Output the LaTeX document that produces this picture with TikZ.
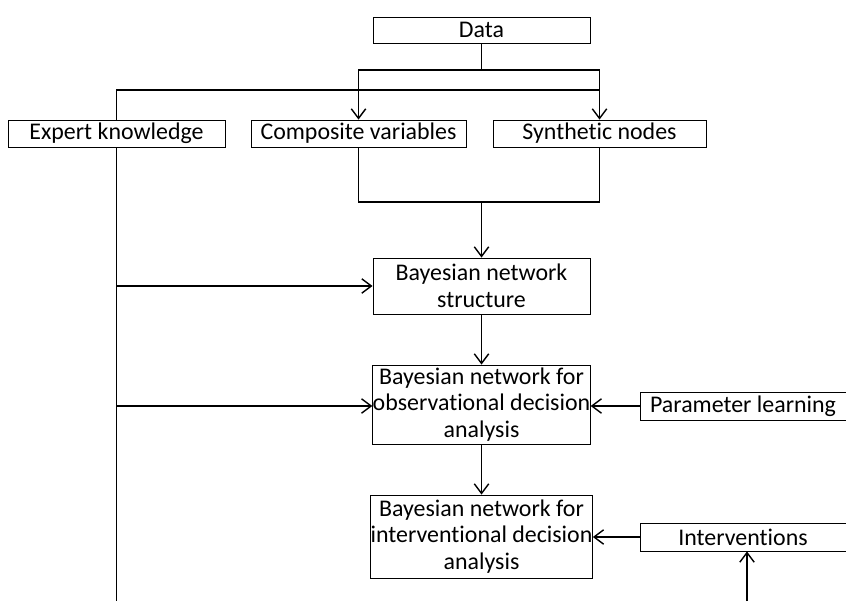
\documentclass[tikz,border=0pt]{standalone}
\usepackage{fontspec}
\setmainfont{Carlito}[Ligatures=NoCommon]
\usetikzlibrary{arrows.meta}

\begin{document}
\begin{tikzpicture}[
    x=0.025cm,y=-0.025cm,
    box/.style={
        draw,
        line width=0.6pt,
        fill=white,
        align=center,
        inner sep=0pt,
        font=\fontsize{17}{19}\selectfont
    },
    edge/.style={line width=1.4pt},
    arrow/.style={edge,-{Straight Barb[length=2.4mm,width=3.6mm,line width=1pt]}}
]

\useasboundingbox (0,0) rectangle (846,601);

\node[box,minimum width=5.425cm,minimum height=0.65cm] (data) at (481.5,30) {Data};

\node[box,minimum width=5.425cm,minimum height=0.675cm] (expert) at (116.5,133.5) {Expert knowledge};
\node[box,minimum width=5.375cm,minimum height=0.675cm] (comp) at (358.5,133.5) {Composite variables};
\node[box,minimum width=5.325cm,minimum height=0.675cm] (synth) at (599.5,133.5) {Synthetic nodes};

\node[box,minimum width=5.425cm,minimum height=1.4cm] (bnstruct) at (481.5,286)
    {Bayesian network\\structure};
\node[box,minimum width=5.425cm,minimum height=1.975cm] (bnobs) at (481.5,404.5)
    {Bayesian network for\\observational decision\\analysis};
\node[box,minimum width=5.425cm,minimum height=2.075cm] (bnint) at (481.5,536.5)
    {Bayesian network for\\interventional decision\\analysis};

\node[box,minimum width=5.15cm,minimum height=0.7cm] (param) at (743,406) {Parameter learning};
\node[box,minimum width=5.15cm,minimum height=0.7cm] (interv) at (743,537) {Interventions};

\coordinate (split) at (481.5,70);
\coordinate (join) at (599.5,90);
\coordinate (merge) at (481.5,202);
\coordinate (expertend) at (116.5,601);
\coordinate (intervstart) at (747,601);

\draw[edge] (data.south)--(split);
\draw[arrow] (split) -| (comp.north);
\draw[arrow] (split) -| (synth.north);
\draw[edge] (expert.north) |- (join);

\draw[edge] (comp.south) |- (merge);
\draw[edge] (synth.south) |- (merge);
\draw[arrow] (merge)--(bnstruct.north);

\draw[edge] (expert.south)--(expertend);
\draw[arrow] (expert.south |- bnstruct.west)--(bnstruct.west);
\draw[arrow] (expert.south |- param.west)--(bnobs.west |- param.west);

\draw[arrow] (bnstruct.south)--(bnobs.north);
\draw[arrow] (bnobs.south)--(bnint.north);
\draw[arrow] (param.west)--(bnobs.east |- param.west);
\draw[arrow] (interv.west)--(bnint.east |- interv.west);
\draw[arrow] (intervstart)--(intervstart |- interv.south);

\end{tikzpicture}
\end{document}
